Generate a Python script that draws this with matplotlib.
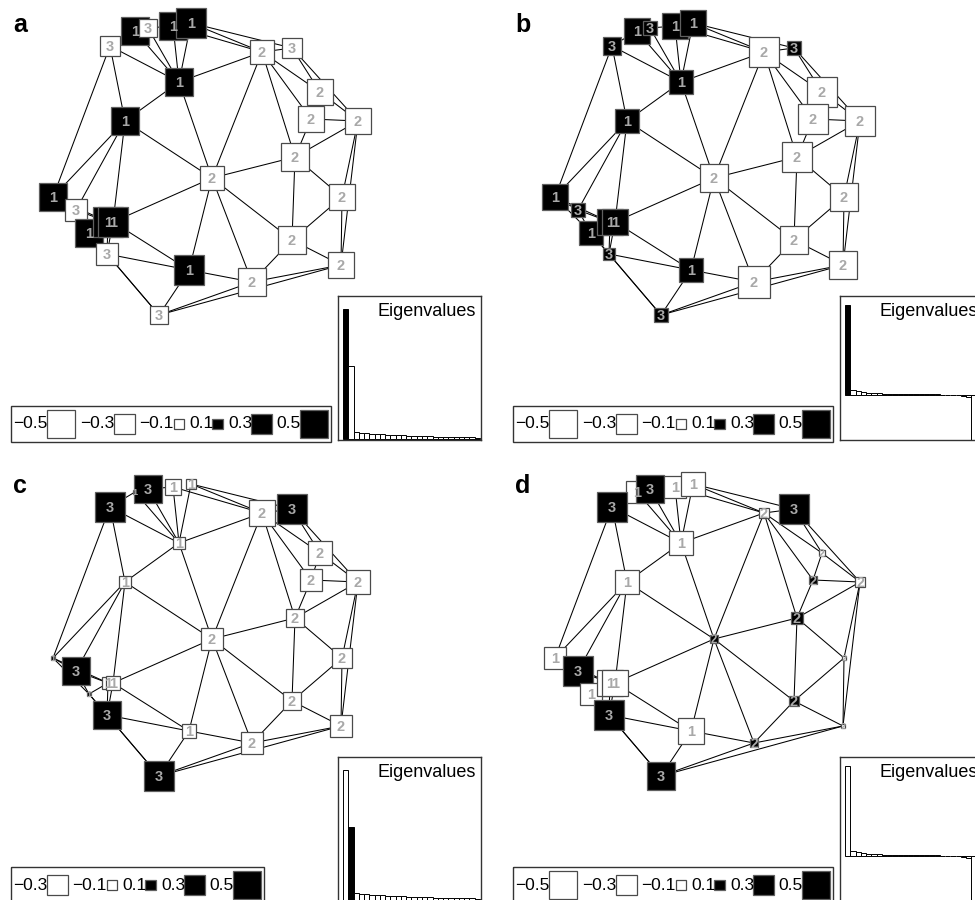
import numpy as np
import matplotlib
matplotlib.use('Agg')
import matplotlib.pyplot as plt
from matplotlib.patches import Rectangle

plt.rcParams['font.family'] = ['Liberation Sans', 'DejaVu Sans']

# node layout (pixels inside one panel) and community of each node
node_x = [135, 148, 173, 191, 110, 179, 262, 292, 320, 311, 358, 125, 295, 212, 342,
          53, 76, 89, 108, 113, 107, 292, 341, 189, 252, 159]
node_y = [31, 28, 26, 23, 46, 82, 52, 48, 92, 119, 121, 121, 157, 178, 197,
          197, 210, 233, 222, 222, 254, 240, 265, 270, 282, 315]
community = [1, 3, 1, 1, 3, 1, 2, 3, 2, 2, 2, 1, 2, 2, 2,
             1, 3, 1, 1, 1, 3, 2, 2, 1, 2, 3]

edges = [(0, 5), (1, 5), (2, 5), (3, 5), (4, 5), (0, 4), (1, 2), (2, 6), (3, 6), (3, 7),
         (5, 6), (5, 11), (5, 13), (4, 11), (4, 15), (6, 7), (6, 8), (6, 9), (6, 12), (6, 13),
         (7, 8), (7, 10), (8, 10), (8, 9), (9, 10), (9, 12), (10, 12), (12, 13), (12, 14),
         (12, 21), (10, 14), (10, 22), (14, 22), (14, 21), (21, 22), (21, 24), (13, 21),
         (11, 13), (11, 15), (11, 16), (11, 19), (13, 19), (13, 23), (13, 24), (19, 23),
         (20, 23), (20, 25), (17, 25), (23, 25), (23, 24), (24, 25), (22, 25), (22, 24),
         (15, 16), (15, 18), (15, 17), (16, 18), (17, 18), (18, 20), (19, 20), (16, 17), (17, 20)]

# eigenvector components shown in each panel
vec_a = [0.50, -0.22, 0.50, 0.58, -0.28, 0.53, -0.41, -0.28, -0.47, -0.47, -0.44, 0.52, -0.50,
         -0.41, -0.44, 0.53, -0.31, 0.50, 0.59, 0.59, -0.36, -0.50, -0.44, 0.58, -0.53, -0.22]
vec_b = [0.44, 0.16, 0.44, 0.47, 0.22, 0.41, -0.56, 0.16, -0.56, -0.56, -0.56, 0.41, -0.56,
         -0.50, -0.53, 0.47, 0.16, 0.41, 0.47, 0.47, 0.12, -0.53, -0.53, 0.41, -0.62, 0.16]
vec_c = [0.02, 0.53, -0.20, -0.105, 0.56, -0.13, -0.44, 0.56, -0.39, -0.31, -0.39, -0.12, -0.25,
         -0.32, -0.285, 0.02, 0.53, 0.02, -0.11, -0.16, 0.53, -0.26, -0.31, -0.14, -0.35, 0.56]
vec_d = [-0.33, 0.53, -0.33, -0.41, 0.56, -0.41, -0.105, 0.56, -0.04, 0.062, -0.085, -0.41, 0.12,
         0.05, -0.025, -0.33, 0.56, -0.33, -0.44, -0.44, 0.56, 0.105, -0.02, -0.47, 0.075, 0.53]

# eigenvalue spectra (normalised)
spec1 = [1.0, 0.56, 0.056, 0.05, 0.046, 0.042, 0.039, 0.036, 0.034, 0.032, 0.03, 0.028, 0.026,
         0.024, 0.022, 0.021, 0.02, 0.019, 0.018, 0.017, 0.016, 0.015, 0.014, 0.013, 0.012, 0.011]
spec2 = [1.0, 0.055, 0.045, 0.032, 0.025, 0.02, 0.017, 0.015, 0.013, 0.012, 0.011, 0.01, 0.01,
         0.009, 0.008, 0.008, 0.007, 0.006, 0.005, 0.004, 0.002, 0.0, -0.01, -0.025, -0.55, -0.6]

legend_full = [-0.5, -0.3, -0.1, 0.1, 0.3, 0.5]
legend_c = [-0.3, -0.1, 0.1, 0.3, 0.5]

panels = [
    ('a', (0, 0), vec_a, spec1, 0, legend_full, (-1 / 130, 1.1)),
    ('b', (502, 0), vec_b, spec2, 0, legend_full, (-0.5, 1.1)),
    ('c', (0, 461), vec_c, spec1, 1, legend_c, (-1 / 130, 1.1)),
    ('d', (502, 461), vec_d, spec2, 25, legend_full, (-0.5, 1.1)),
]

W, H = 975, 900
PW, PH = 487, 450


def side(v):
    return 28 * (abs(v) / 0.5) ** 0.6


def square(ax, x, y, v):
    s = side(v)
    fc = 'black' if v > 0 else 'white'
    ec = '#606060' if v > 0 else '#4a4a4a'
    ax.add_patch(Rectangle((x - s / 2, y - s / 2), s, s, facecolor=fc, edgecolor=ec,
                           linewidth=0.9, zorder=2))
    return s


fig = plt.figure(figsize=(W / 100, H / 100), dpi=100)

for name, (ox, oy), vec, spec, hi, leg, ylim in panels:
    ax = fig.add_axes([ox / W, 1 - (oy + PH) / H, PW / W, PH / H])
    ax.set_xlim(0, PW)
    ax.set_ylim(PH, 0)
    ax.axis('off')

    for i, j in edges:
        ax.plot([node_x[i], node_x[j]], [node_y[i], node_y[j]], color='black',
                lw=0.75, zorder=1, solid_capstyle='butt')

    for k in range(len(node_x)):
        square(ax, node_x[k], node_y[k], vec[k])

    for k in range(len(node_x)):
        s = side(vec[k])
        dh = min(10.5, max(6.5, 0.75 * s + 3))
        ax.text(node_x[k], node_y[k] + dh / 2, str(community[k]), ha='center', va='baseline',
                fontsize=dh / 0.716 * 0.72, fontweight='bold', color='#a8a8a8', zorder=3)

    ax.text(13, 32, name, fontsize=18, fontweight='bold', va='baseline', ha='left')

    # legend
    x = 13
    for v in leg:
        tw = 31 if v < 0 else 20
        ax.text(x, 424, ('\u2212' if v < 0 else '') + '%.1f' % abs(v), ha='left', va='center',
                fontsize=12.5, zorder=3)
        x += tw + 3
        s = side(v)
        square(ax, x + s / 2, 424, v)
        x += s + 5
    ax.add_patch(Rectangle((11, 406), x - 2 - 11, 36, fill=False, edgecolor='#333333',
                           linewidth=1.0, zorder=2, clip_on=False))

    # eigenvalue inset
    ins = fig.add_axes([(ox + 338) / W, 1 - (oy + 440) / H, 143 / W, 144 / H])
    cols = ['black' if k == hi else 'white' for k in range(len(spec))]
    ins.bar(np.arange(len(spec)), spec, width=1.0, align='edge', color=cols,
            edgecolor='black', linewidth=0.7)
    ins.set_xlim(-0.95, 26.2)
    ins.set_ylim(*ylim)
    ins.set_xticks([])
    ins.set_yticks([])
    for sp in ins.spines.values():
        sp.set_linewidth(1.0)
        sp.set_color('#333333')
    ins.text(0.965, 0.861, 'Eigenvalues', transform=ins.transAxes, ha='right',
             va='baseline', fontsize=13)

fig.savefig('out.png', dpi=100)
